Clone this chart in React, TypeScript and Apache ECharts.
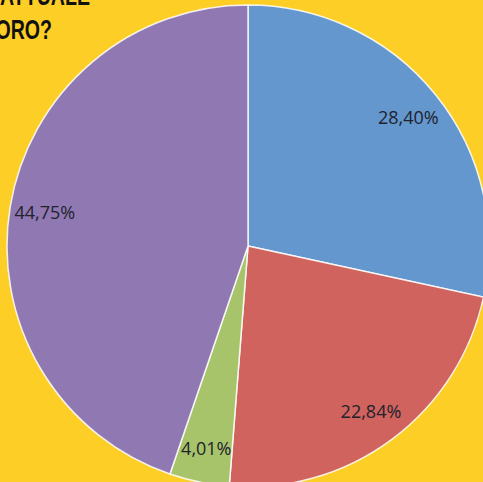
import React, { useEffect, useRef } from "react";
import * as echarts from "echarts";

const categories = ["A", "B", "C", "D"];
const values = [28.4, 22.84, 4.01, 44.75];
const colors = ["#6497CD", "#D0635E", "#A7C46B", "#9079B3"];
const titleLines = ["ATTUALE", "LAVORO?"];

export default function App() {
  const ref = useRef<HTMLDivElement>(null);
  useEffect(() => {
    if (!ref.current) return;
    const chart = echarts.init(ref.current, undefined, { renderer: "svg" });
    const data = categories.map((c, i) => ({ name: c, value: values[i], itemStyle: { color: colors[i] } }));
    const fmt = (p: any) => p.value.toFixed(2).replace(".", ",") + "%";
    const titleFont = "bold 28px 'Liberation Sans', Arial, sans-serif";
    chart.setOption({
      animation: false,
      backgroundColor: "#FDCF26",
      graphic: [
        {
          type: "text",
          x: 90,
          y: -19,
          scaleX: 0.7,
          style: { text: titleLines[0], font: titleFont, fill: "#111", align: "right", verticalAlign: "top" },
        },
        {
          type: "text",
          x: 52,
          y: 15,
          scaleX: 0.7,
          style: { text: titleLines[1], font: titleFont, fill: "#111", align: "right", verticalAlign: "top" },
        },
      ],
      series: [
        {
          type: "pie",
          center: [248, 246],
          radius: [0, 241],
          startAngle: 90,
          clockwise: true,
          silent: true,
          label: { show: false },
          labelLine: { show: false },
          itemStyle: { borderColor: "rgba(255,255,255,0.85)", borderWidth: 1.5 },
          data,
        },
        {
          type: "pie",
          center: [248, 246],
          radius: [166, 240],
          startAngle: 90,
          clockwise: true,
          silent: true,
          itemStyle: { color: "transparent", borderWidth: 0 },
          label: {
            show: true,
            position: "inside",
            formatter: fmt,
            fontFamily: "'Open Sans', 'Liberation Sans', sans-serif",
            fontSize: 18,
            color: "#22222E",
          },
          labelLine: { show: false },
          data: categories.map((c, i) => ({ name: c, value: values[i] })),
        },
      ],
    });
    return () => chart.dispose();
  }, []);
  return <div ref={ref} style={{ position: "fixed", left: 0, top: 0, width: 483, height: 482 }} />;
}
